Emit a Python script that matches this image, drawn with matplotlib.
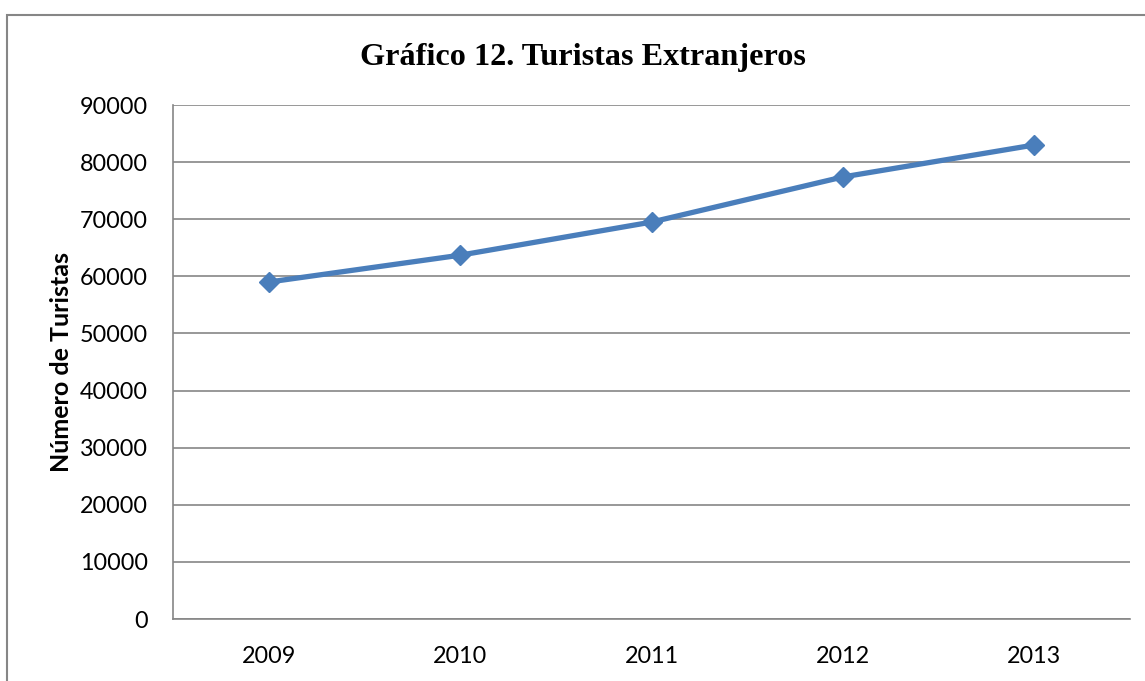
import matplotlib
matplotlib.use("Agg")
import matplotlib.pyplot as plt
from matplotlib.patches import Rectangle

years = ["2009", "2010", "2011", "2012", "2013"]
turistas = [59000, 63700, 69500, 77400, 83000]
y_ticks = [0, 10000, 20000, 30000, 40000, 50000, 60000, 70000, 80000, 90000]

fig = plt.figure(figsize=(11.45, 6.81), dpi=100)
ax = fig.add_axes([173 / 1145, 62 / 681, 957 / 1145, 514 / 681])

# Excel-style outer chart border (cut off at right and bottom)
fig.patches.append(Rectangle((7 / 1145, -0.1), 1.2, (681 - 15) / 681 + 0.1,
                             transform=fig.transFigure, fill=False,
                             edgecolor="#868686", linewidth=1.5))

x = list(range(len(years)))
ax.plot(x, turistas, color="#4A7EBB", linewidth=3.8, marker="D",
        markersize=10, zorder=3)

ax.set_xlim(-0.5, len(years) - 0.5)
ax.set_ylim(0, 90000)
ax.set_yticks(y_ticks)
ax.set_yticklabels([str(v) for v in y_ticks])
ax.set_xticks(x)
ax.set_xticklabels(years)
ax.tick_params(length=0, labelsize=16.8)
ax.tick_params(axis="y", pad=18)
ax.tick_params(axis="x", pad=19.5)
for lbl in ax.get_xticklabels() + ax.get_yticklabels():
    lbl.set_fontfamily("Lato")

ax.grid(axis="y", color="#868686", linewidth=1.2)
ax.set_axisbelow(True)
for side in ["top", "right"]:
    ax.spines[side].set_visible(False)
for side in ["left", "bottom"]:
    ax.spines[side].set_color("#868686")
    ax.spines[side].set_linewidth(1.2)

ax.set_ylabel("Número de Turistas", fontfamily="Lato", fontweight="bold",
              fontsize=18, labelpad=5)

fig.text(583 / 1145, 1 - 57 / 681, "Gráfico 12. Turistas Extranjeros",
         ha="center", va="center", fontfamily="Liberation Serif",
         fontweight="bold", fontsize=23.2)

fig.savefig("out.png", dpi=100)
